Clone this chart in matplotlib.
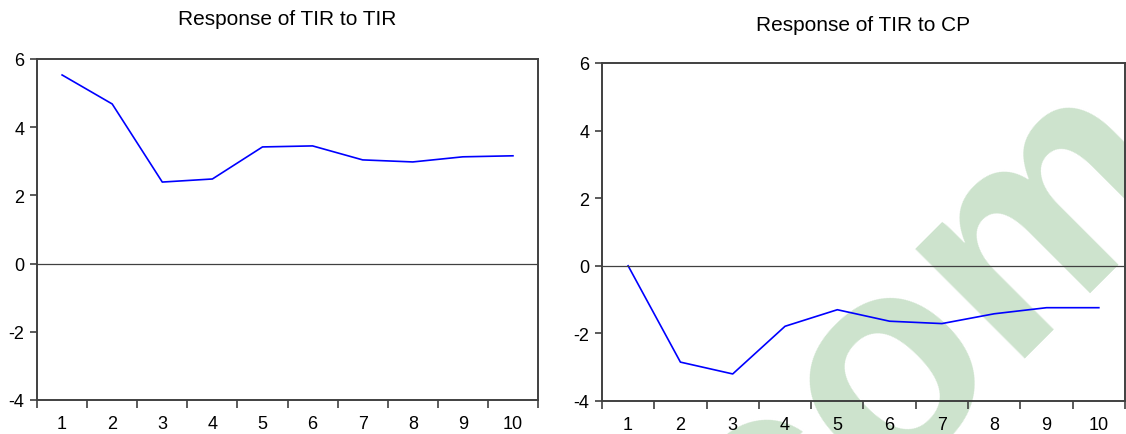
import numpy as np
import matplotlib
matplotlib.use("Agg")
import matplotlib.pyplot as plt

plt.rcParams['font.family'] = ['Liberation Sans', 'DejaVu Sans']

periods = np.arange(1, 11)
tir_to_tir = [5.53, 4.68, 2.39, 2.48, 3.42, 3.45, 3.04, 2.98, 3.13, 3.16]
tir_to_cp = [0.0, -2.85, -3.20, -1.79, -1.30, -1.64, -1.71, -1.42, -1.24, -1.24]
titles = ["Response of TIR to TIR", "Response of TIR to CP"]
y_ticks = [-4, -2, 0, 2, 4, 6]

spine_col = '#404040'

fig = plt.figure(figsize=(11.26, 4.35), dpi=100)
ax1 = fig.add_axes([0.0329, 0.0782, 0.4449, 0.784])
ax2 = fig.add_axes([0.5346, 0.0759, 0.4645, 0.777])

# watermark behind the plots
fig.text(0.870, 0.098, "com", fontsize=212, fontweight='bold', color='#cde3cd',
         rotation=45, rotation_mode='anchor', ha='center', va='baseline', zorder=-1)


def style_panel(ax, values, title, title_y):
    ax.set_facecolor('none')
    ax.plot(periods, values, color='#0000ff', lw=1.2)
    ax.axhline(0, color=spine_col, lw=0.9)
    ax.set_xlim(0.5, 10.5)
    ax.set_ylim(-4, 6)
    ax.set_yticks(y_ticks)
    ax.set_yticklabels([str(v) for v in y_ticks])
    ax.set_xticks(periods)
    ax.set_xticks(np.arange(0.5, 11.0, 1.0), minor=True)
    ax.tick_params(axis='x', which='major', length=0, pad=11, labelsize=13)
    ax.tick_params(axis='x', which='minor', length=6, width=1.2, color=spine_col)
    ax.tick_params(axis='y', length=5, width=1.2, color=spine_col, pad=4, labelsize=13)
    for s in ax.spines.values():
        s.set_color(spine_col)
        s.set_linewidth(1.4)
    ax.text(0.5, title_y, title, transform=ax.transAxes, fontsize=15,
            ha='center', va='center')


style_panel(ax1, tir_to_tir, titles[0], 1.119)
style_panel(ax2, tir_to_cp, titles[1], 1.115)

fig.savefig("out.png", dpi=100)
